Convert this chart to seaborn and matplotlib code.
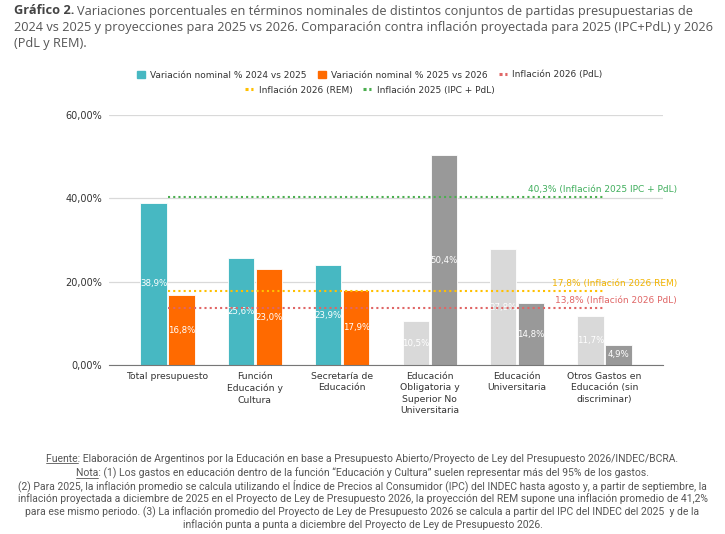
import matplotlib
matplotlib.use("Agg")
import matplotlib.pyplot as plt
from matplotlib.patches import Patch
from matplotlib.lines import Line2D
import seaborn as sns
import pandas as pd

# datos
categorias = ["Total presupuesto", "Función\nEducación y\nCultura", "Secretaría de\nEducación",
              "Educación\nObligatoria y\nSuperior No\nUniversitaria", "Educación\nUniversitaria",
              "Otros Gastos en\nEducación (sin\ndiscriminar)"]
var_2024_2025 = [38.9, 25.6, 23.9, 10.5, 27.8, 11.7]
var_2025_2026 = [16.8, 23.0, 17.9, 50.4, 14.8, 4.9]
series = ["Variación nominal % 2024 vs 2025", "Variación nominal % 2025 vs 2026"]
infl_2026_pdl = 13.8
infl_2026_rem = 17.8
infl_2025_ipc = 40.3

df = pd.DataFrame({
    "categoria": categorias * 2,
    "valor": var_2024_2025 + var_2025_2026,
    "serie": [series[0]] * 6 + [series[1]] * 6,
})

teal = "#47B8C2"
orange = "#FF6A00"
light_gray = "#D9D9D9"
dark_gray = "#999999"
text_col = "#333333"

sns.set_style("white")
plt.rcParams["font.family"] = ["DejaVu Sans"]

fig = plt.figure(figsize=(7.25, 5.34), dpi=100)
ax = fig.add_axes([109 / 725, 1 - 365 / 534, 554 / 725, 250 / 534])

sns.barplot(data=df, x="categoria", y="valor", hue="serie", palette=[teal, orange],
            saturation=1, width=0.64, gap=0.06, legend=False, ax=ax,
            edgecolor="white", linewidth=0.6)

# las ultimas tres categorias van en gris
for i, cont in enumerate(ax.containers):
    for j, bar in enumerate(cont):
        if j >= 3:
            bar.set_facecolor(light_gray if i == 0 else dark_gray)
    vals = var_2024_2025 if i == 0 else var_2025_2026
    ax.bar_label(cont, labels=[f"{v:.1f}%".replace(".", ",") for v in vals],
                 label_type="center", color="white", fontsize=6.2)

ax.set_ylim(0, 60)
ax.set_xlim(-0.67, 5.67)
ax.set_yticks([0, 20, 40, 60])
ax.set_yticklabels(["0,00%", "20,00%", "40,00%", "60,00%"], fontsize=7, color=text_col)
ax.tick_params(axis="x", labelsize=6.7, colors=text_col, length=0, pad=5)
ax.tick_params(axis="y", length=0, pad=5)
for lab in ax.get_xticklabels():
    lab.set_linespacing(1.35)
ax.set_xlabel("")
ax.set_ylabel("")
ax.grid(axis="y", color="#D9D9D9", linewidth=0.9)
ax.set_axisbelow(True)
for s in ["top", "right", "left"]:
    ax.spines[s].set_visible(False)
ax.spines["bottom"].set_color("#777777")

# lineas de inflacion
dots = (0, (1, 1.5))
lineas = [(infl_2025_ipc, "#4CAF50", "#3FAE5C", "40,3% (Inflación 2025 IPC + PdL)"),
          (infl_2026_rem, "#FFC000", "#F2B400", "17,8% (Inflación 2026 REM)"),
          (infl_2026_pdl, "#E06666", "#E06666", "13,8% (Inflación 2026 PdL)")]
for y, lc, tc, txt in lineas:
    ax.hlines(y, 0, 5, colors=lc, linestyles=dots, linewidth=1.5, zorder=3)
    ax.annotate(txt, xy=(1.025, y), xycoords=("axes fraction", "data"), xytext=(0, 2),
                textcoords="offset points", ha="right", va="bottom", color=tc,
                fontsize=6.5, annotation_clip=False)

# leyenda en dos filas
leg_dots = (0, (1, 0.9))
h1 = [Patch(color=teal), Patch(color=orange),
      Line2D([], [], color="#E06666", linestyle=leg_dots, linewidth=2.2)]
l1 = [series[0], series[1], "Inflación 2026 (PdL)"]
h2 = [Line2D([], [], color="#FFC000", linestyle=leg_dots, linewidth=2.2),
      Line2D([], [], color="#4CAF50", linestyle=leg_dots, linewidth=2.2)]
l2 = ["Inflación 2026 (REM)", "Inflación 2025 (IPC + PdL)"]
leg_kw = dict(frameon=False, fontsize=6.5, handlelength=0.9, handleheight=0.9,
              columnspacing=1.2, handletextpad=0.6, labelcolor=text_col)
fig.legend(h1, l1, ncol=3, loc="center", bbox_to_anchor=(0.51, 1 - 75 / 534), **leg_kw)
fig.legend(h2, l2, ncol=2, loc="center", bbox_to_anchor=(0.51, 1 - 90 / 534), **leg_kw)

# titulo
title_font = "Open Sans"
title_size = 9.2
t1 = fig.text(14 / 725, 1 - 11 / 534, "Gráfico 2.", fontsize=title_size, fontweight="bold",
              color="#444444", family=title_font, va="center")
fig.canvas.draw()
r = fig.canvas.get_renderer()
bb = t1.get_window_extent(r)
fig.text((bb.x1 + 3) / 725, 1 - 11 / 534,
         "Variaciones porcentuales en términos nominales de distintos conjuntos de partidas presupuestarias de",
         fontsize=title_size, color="#555555", family=title_font, va="center")
fig.text(14 / 725, 1 - 27 / 534,
         "2024 vs 2025 y proyecciones para 2025 vs 2026. Comparación contra inflación proyectada para 2025 (IPC+PdL) y 2026",
         fontsize=title_size, color="#555555", family=title_font, va="center")
fig.text(14 / 725, 1 - 43 / 534, "(PdL y REM).",
         fontsize=title_size, color="#555555", family=title_font, va="center")

# notas al pie
foot_font = "Roboto"
foot_size = 7.5
foot = [
    "Fuente: Elaboración de Argentinos por la Educación en base a Presupuesto Abierto/Proyecto de Ley del Presupuesto 2026/INDEC/BCRA.",
    "Nota: (1) Los gastos en educación dentro de la función “Educación y Cultura” suelen representar más del 95% de los gastos.",
    "(2) Para 2025, la inflación promedio se calcula utilizando el Índice de Precios al Consumidor (IPC) del INDEC hasta agosto y, a partir de septiembre, la",
    "inflación proyectada a diciembre de 2025 en el Proyecto de Ley de Presupuesto 2026, la proyección del REM supone una inflación promedio de 41,2%",
    "para ese mismo periodo. (3) La inflación promedio del Proyecto de Ley de Presupuesto 2026 se calcula a partir del IPC del INDEC del 2025  y de la",
    "inflación punta a punta a diciembre del Proyecto de Ley de Presupuesto 2026.",
]
foot_y = [459, 473, 486, 499, 512, 525]
foot_texts = []
for txt, y in zip(foot, foot_y):
    foot_texts.append(fig.text(0.5, 1 - y / 534, txt, ha="center", va="center",
                               fontsize=foot_size, color="#555555", family=foot_font))

# subrayado de Fuente y Nota
fig.canvas.draw()
for t, word in [(foot_texts[0], "Fuente"), (foot_texts[1], "Nota")]:
    bb = t.get_window_extent(r)
    tmp = fig.text(0, 0, word, fontsize=foot_size, family=foot_font)
    w = tmp.get_window_extent(r).width
    tmp.remove()
    fig.add_artist(Line2D([bb.x0, bb.x0 + w], [bb.y0 + 1, bb.y0 + 1], color="#555555",
                          linewidth=0.6, transform=None))

fig.savefig("out.png", dpi=100)
